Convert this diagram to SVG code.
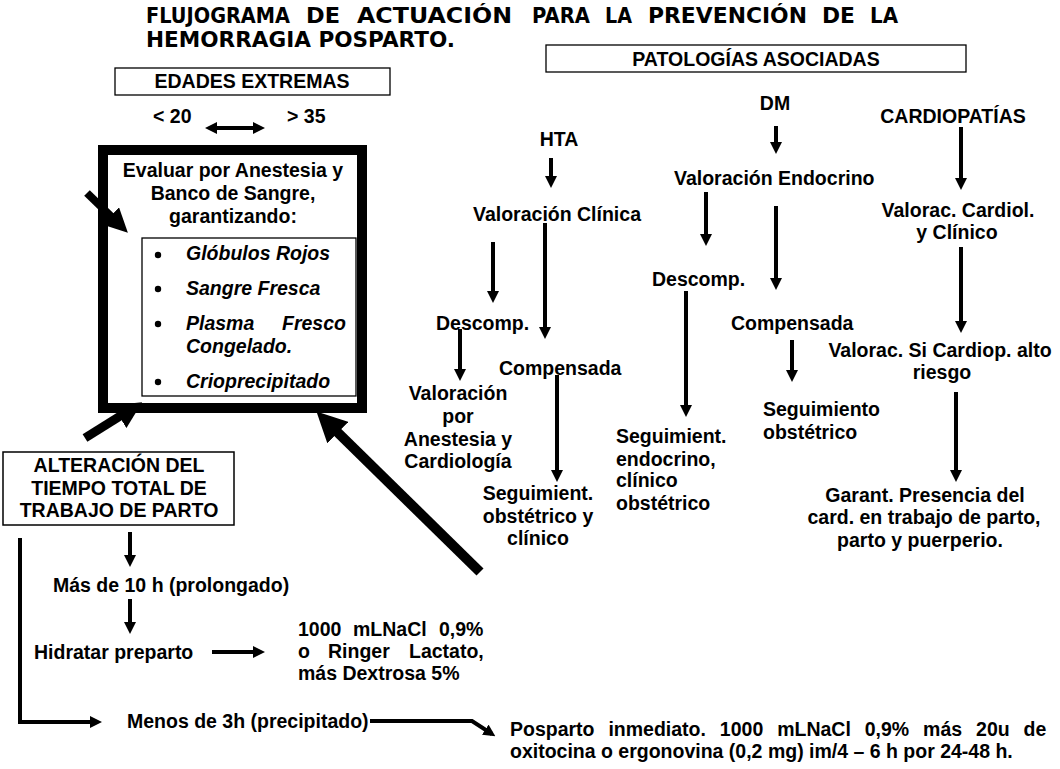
<svg xmlns="http://www.w3.org/2000/svg" width="1060" height="769" viewBox="0 0 1060 769">
<style>
.b{font-family:"Liberation Sans",Arial,sans-serif;font-weight:bold;font-size:19.5px;fill:#000}
.c{text-anchor:middle}
.i{font-style:italic}
.ttl{font-family:"DejaVu Sans","Liberation Sans",sans-serif;font-weight:bold;font-size:20.5px;fill:#000}
.thin{fill:none;stroke:#000;stroke-width:1.3}
.ar{fill:none;stroke:#000;stroke-width:4;marker-end:url(#ah)}
.thick{fill:none;stroke:#000;marker-end:url(#ahT)}
</style>
<defs>
<marker id="ah" markerUnits="userSpaceOnUse" markerWidth="12" markerHeight="12" viewBox="0 0 12 12" refX="8" refY="6" orient="auto-start-reverse">
<path d="M0,0 L12,6 L0,12 z" fill="#000"/>
</marker>
<marker id="ahT" markerUnits="strokeWidth" markerWidth="3" markerHeight="3" viewBox="0 0 10 10" refX="6" refY="5" orient="auto">
<path d="M0,0 L10,5 L0,10 z" fill="#000"/>
</marker>
</defs>
<rect width="1060" height="769" fill="#fff"/>

<g id="title">
<text class="ttl" x="146" y="23" textLength="144" lengthAdjust="spacingAndGlyphs">FLUJOGRAMA</text>
<text class="ttl" x="306" y="23" textLength="34" lengthAdjust="spacingAndGlyphs">DE</text>
<text class="ttl" x="357" y="23" textLength="155" lengthAdjust="spacingAndGlyphs">ACTUACIÓN</text>
<text class="ttl" x="532" y="23" textLength="58" lengthAdjust="spacingAndGlyphs">PARA</text>
<text class="ttl" x="605" y="23" textLength="27" lengthAdjust="spacingAndGlyphs">LA</text>
<text class="ttl" x="648" y="23" textLength="159" lengthAdjust="spacingAndGlyphs">PREVENCIÓN</text>
<text class="ttl" x="822" y="23" textLength="33" lengthAdjust="spacingAndGlyphs">DE</text>
<text class="ttl" x="870" y="23" textLength="28" lengthAdjust="spacingAndGlyphs">LA</text>
<text class="ttl" x="146" y="47" textLength="309" lengthAdjust="spacingAndGlyphs">HEMORRAGIA POSPARTO.</text>
</g>

<g id="edades">
<rect class="thin" x="115" y="68" width="275" height="27"/>
<text class="b c" x="252" y="88">EDADES EXTREMAS</text>
<text class="b" x="153" y="123">&lt; 20</text>
<text class="b" x="287" y="123">&gt; 35</text>
</g>

<g id="patologias">
<rect class="thin" x="546" y="45" width="420" height="27"/>
<text class="b c" x="756" y="66">PATOLOGÍAS ASOCIADAS</text>
</g>

<g id="evaluar">
<rect x="103" y="150" width="259" height="258" fill="none" stroke="#000" stroke-width="10"/>
<text class="b c" x="233" y="177">Evaluar por Anestesia y</text>
<text class="b c" x="233" y="200">Banco de Sangre,</text>
<text class="b c" x="233" y="223">garantizando:</text>
<rect class="thin" x="142" y="238" width="214" height="158"/>
<circle cx="158" cy="255" r="3.2"/>
<circle cx="158" cy="289" r="3.2"/>
<circle cx="158" cy="324" r="3.2"/>
<circle cx="158" cy="382" r="3.2"/>
<text class="b i" x="186" y="260">Glóbulos Rojos</text>
<text class="b i" x="186" y="295">Sangre Fresca</text>
<text class="b i" y="330"><tspan x="186">Plasma</tspan><tspan x="282">Fresco</tspan></text>
<text class="b i" x="186" y="353">Congelado.</text>
<text class="b i" x="186" y="388">Crioprecipitado</text>
</g>

<g id="alteracion">
<rect x="3" y="452" width="231" height="73" fill="none" stroke="#000" stroke-width="1.5"/>
<text class="b c" x="119" y="472">ALTERACIÓN DEL</text>
<text class="b c" x="119" y="495">TIEMPO TOTAL DE</text>
<text class="b c" x="119" y="517">TRABAJO DE PARTO</text>
</g>

<g id="prolongado"><text class="b" x="53" y="592">Más de 10 h (prolongado)</text></g>
<g id="hidratar"><text class="b" x="34" y="659">Hidratar preparto</text></g>
<g id="solucion">
<text class="b" y="636"><tspan x="298">1000</tspan><tspan x="353">mLNaCl</tspan><tspan x="439">0,9%</tspan></text>
<text class="b" y="658"><tspan x="298">o</tspan><tspan x="328">Ringer</tspan><tspan x="409">Lactato,</tspan></text>
<text class="b" x="298" y="680">más Dextrosa 5%</text>
</g>
<g id="precipitado"><text class="b" x="127" y="728">Menos de 3h (precipitado)</text></g>
<g id="posparto">
<text class="b" x="510" y="736" word-spacing="8.5">Posparto inmediato. 1000 mLNaCl 0,9% más 20u de</text>
<text class="b" x="510" y="758">oxitocina o ergonovina (0,2 mg) im/4 – 6 h por 24-48 h.</text>
</g>

<g id="hta">
<text class="b c" x="559" y="146">HTA</text>
<text class="b" x="473" y="221">Valoración Clínica</text>
<text class="b" x="436" y="330">Descomp.</text>
<text class="b" x="499" y="375">Compensada</text>
<text class="b c" x="458" y="400">Valoración</text>
<text class="b c" x="458" y="423">por</text>
<text class="b c" x="458" y="446">Anestesia y</text>
<text class="b c" x="458" y="468">Cardiología</text>
<text class="b c" x="538" y="500">Seguimient.</text>
<text class="b c" x="538" y="523">obstétrico y</text>
<text class="b c" x="538" y="545">clínico</text>
</g>

<g id="dm">
<text class="b c" x="775" y="110">DM</text>
<text class="b" x="674" y="185">Valoración Endocrino</text>
<text class="b" x="652" y="286">Descomp.</text>
<text class="b" x="731" y="330">Compensada</text>
<text class="b" x="616" y="443">Seguimient.</text>
<text class="b" x="616" y="466">endocrino,</text>
<text class="b" x="616" y="487">clínico</text>
<text class="b" x="616" y="510">obstétrico</text>
<text class="b" x="763" y="416">Seguimiento</text>
<text class="b" x="763" y="439">obstétrico</text>
</g>

<g id="cardiopatias">
<text class="b c" x="953" y="123">CARDIOPATÍAS</text>
<text class="b c" x="958" y="217">Valorac. Cardiol.</text>
<text class="b c" x="957" y="239">y Clínico</text>
<text class="b c" x="940" y="357">Valorac. Si Cardiop. alto</text>
<text class="b c" x="942" y="379">riesgo</text>
<text class="b c" x="925" y="502">Garant. Presencia del</text>
<text class="b c" x="924" y="524">card. en trabajo de parto,</text>
<text class="b c" x="920" y="547">parto y puerperio.</text>
</g>

<g id="connectors">
<line x1="209" y1="128" x2="261" y2="128" stroke="#000" stroke-width="4" marker-start="url(#ah)" marker-end="url(#ah)"/>
<line class="thick" stroke-width="8" x1="87" y1="193" x2="121" y2="226"/>
<line class="thick" stroke-width="9" x1="85" y1="438" x2="133" y2="408"/>
<line class="thick" stroke-width="10" x1="480" y1="572" x2="325" y2="420"/>
<line class="ar" x1="130" y1="532" x2="130" y2="563"/>
<line class="ar" x1="130" y1="599" x2="130" y2="630"/>
<line class="ar" x1="212" y1="652" x2="261" y2="652"/>
<polyline class="ar" points="20,538 20,722 98,722"/>
<polyline class="ar" points="370,721 472,721 492,734"/>
<line class="ar" x1="551" y1="158" x2="551" y2="184"/>
<line class="ar" x1="545" y1="223" x2="545" y2="335"/>
<line class="ar" x1="493" y1="242" x2="493" y2="299"/>
<line class="ar" x1="460" y1="329" x2="460" y2="377"/>
<line class="ar" x1="557" y1="375" x2="557" y2="478"/>
<line class="ar" x1="776" y1="126" x2="776" y2="150"/>
<line class="ar" x1="706" y1="192" x2="706" y2="242"/>
<line class="ar" x1="776" y1="206" x2="776" y2="286"/>
<line class="ar" x1="686" y1="291" x2="686" y2="413"/>
<line class="ar" x1="792" y1="340" x2="792" y2="378"/>
<line class="ar" x1="961" y1="127" x2="961" y2="186"/>
<line class="ar" x1="961" y1="247" x2="961" y2="329"/>
<line class="ar" x1="956" y1="392" x2="956" y2="478"/>
</g>
</svg>
